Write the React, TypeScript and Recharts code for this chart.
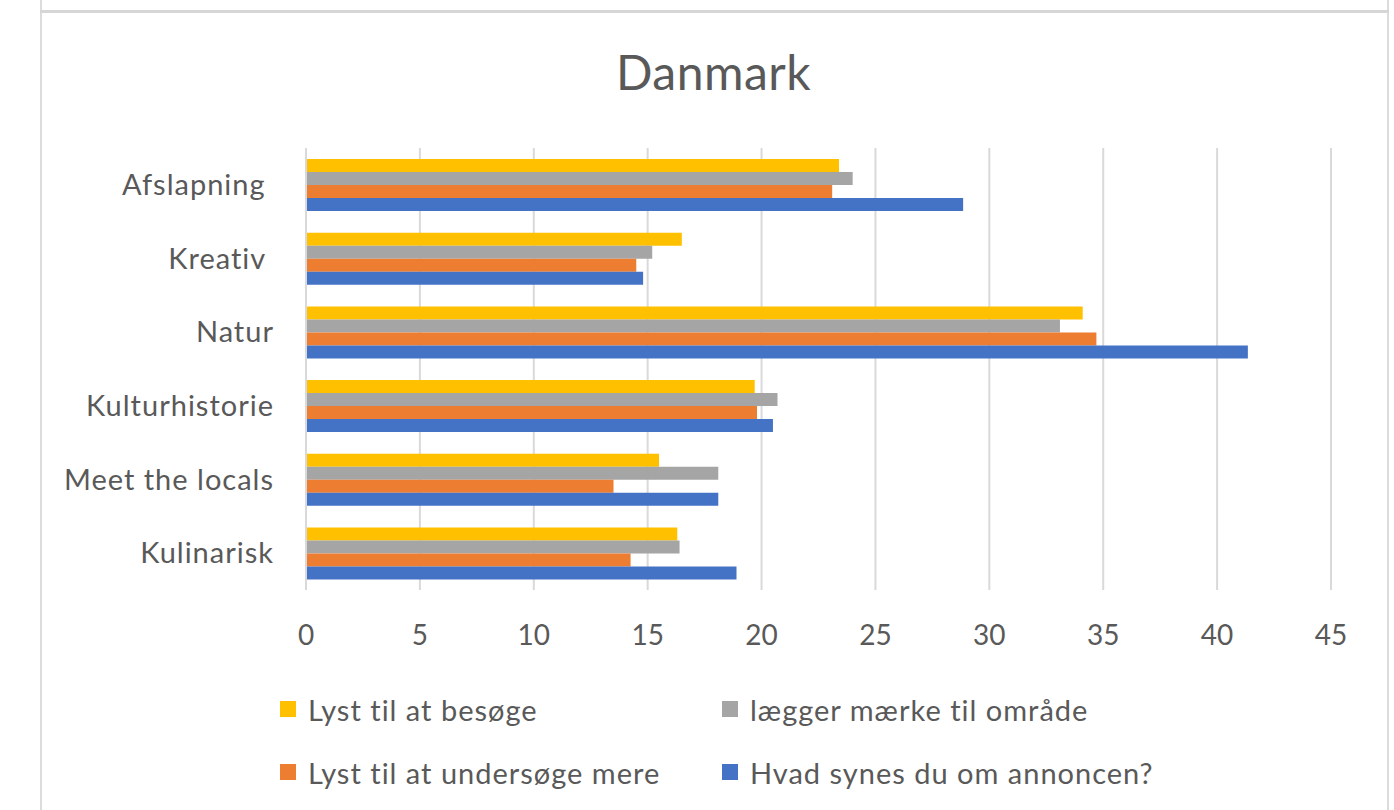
import { BarChart, Bar, CartesianGrid, XAxis, YAxis, Legend } from "recharts";

const categories = ["Afslapning\u00A0", "Kreativ\u00A0", "Natur", "Kulturhistorie", "Meet the locals", "Kulinarisk"];
const besoge = [23.4, 16.5, 34.1, 19.7, 15.5, 16.3];
const omraade = [24.0, 15.2, 33.1, 20.7, 18.1, 16.4];
const undersoge = [23.1, 14.5, 34.7, 19.8, 13.5, 14.25];
const annoncen = [28.85, 14.8, 41.35, 20.5, 18.1, 18.9];
const xTicks = [0, 5, 10, 15, 20, 25, 30, 35, 40, 45];

const series = [
  { key: "besoge", name: "Lyst til at besøge", color: "#FFC000" },
  { key: "omraade", name: "lægger mærke til område", color: "#A5A5A5" },
  { key: "undersoge", name: "Lyst til at undersøge mere", color: "#ED7D31" },
  { key: "annoncen", name: "Hvad synes du om annoncen?", color: "#4472C4" },
];

const data = categories.map((c, i) => ({
  name: c,
  besoge: besoge[i],
  omraade: omraade[i],
  undersoge: undersoge[i],
  annoncen: annoncen[i],
}));

const font = "Lato, 'Noto Sans', sans-serif";
const textColor = "#595959";

function LegendBox() {
  return (
    <div
      style={{
        display: "grid",
        gridTemplateColumns: "442px 470px",
        rowGap: 35,
        fontFamily: font,
        fontSize: 29,
        letterSpacing: 1,
        color: textColor,
      }}
    >
      {series.map((s) => (
        <div key={s.key} style={{ display: "flex", alignItems: "center", height: 28, whiteSpace: "nowrap" }}>
          <span style={{ width: 16, height: 16, background: s.color, marginRight: 12, display: "inline-block" }} />
          <span>{s.name}</span>
        </div>
      ))}
    </div>
  );
}

export default function App() {
  return (
    <div style={{ position: "absolute", left: 0, top: 0, width: 1394, height: 810, background: "#fff", overflow: "hidden" }}>
      {/* chart frame */}
      <div style={{ position: "absolute", left: 40, top: 0, width: 1349, height: 810, borderLeft: "2px solid #dcdcdc", borderRight: "2px solid #dcdcdc", boxSizing: "border-box" }} />
      <div style={{ position: "absolute", left: 40, top: 10, width: 1349, height: 3, background: "#d6d6d6" }} />
      <div
        style={{
          position: "absolute",
          left: 40,
          width: 1347,
          top: 43,
          textAlign: "center",
          fontFamily: font,
          fontSize: 48,
          letterSpacing: 0.5,
          color: textColor,
        }}
      >
        Danmark
      </div>
      <div style={{ position: "absolute", left: 0, top: 0 }}>
        <BarChart
          width={1394}
          height={810}
          data={data}
          layout="vertical"
          margin={{ top: 148, right: 63, bottom: 160, left: 0 }}
          barCategoryGap="15%"
          barGap={0}
        >
          <CartesianGrid horizontal={false} stroke="#d9d9d9" strokeWidth={2} />
          <XAxis
            type="number"
            domain={[0, 45]}
            ticks={xTicks}
            axisLine={false}
            tickLine={false}
            tickSize={0}
            tickMargin={35}
            height={60}
            tick={{ fill: textColor, fontSize: 28, fontFamily: font }}
          />
          <YAxis
            type="category"
            dataKey="name"
            width={306}
            axisLine={{ stroke: "#d9d9d9", strokeWidth: 2 }}
            tickLine={false}
            tickSize={0}
            tickMargin={32}
            interval={0}
            tick={{ fill: textColor, fontSize: 29, fontFamily: font, letterSpacing: 1 }}
          />
          <Legend
            layout="horizontal"
            verticalAlign="middle"
            align="center"
            wrapperStyle={{ top: 695, left: 280, width: 920 }}
            content={() => <LegendBox />}
          />
          {series.map((s) => (
            <Bar key={s.key} dataKey={s.key} name={s.name} fill={s.color} isAnimationActive={false} />
          ))}
        </BarChart>
      </div>
    </div>
  );
}
